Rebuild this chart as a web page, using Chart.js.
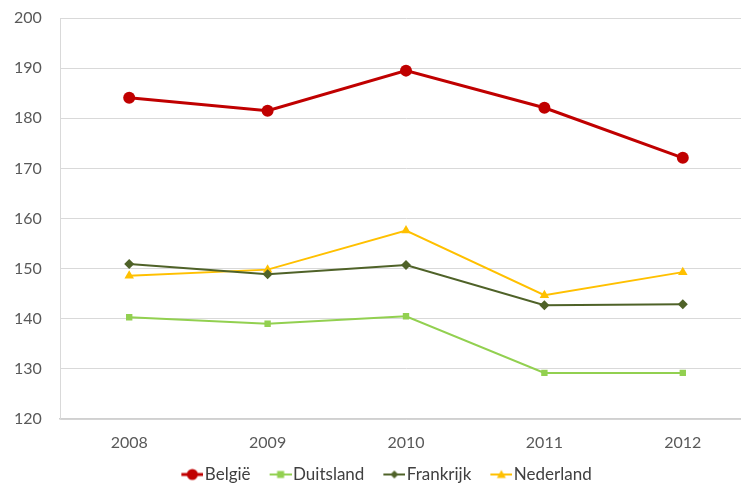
<!DOCTYPE html>
<html>
<head>
<meta charset="utf-8">
<script src="https://cdn.jsdelivr.net/npm/chart.js@4"></script>
<style>
  html, body { margin: 0; padding: 0; background: #fff; overflow: hidden; }
  #wrap { width: 772px; height: 493px; }
</style>
</head>
<body>
<div id="wrap"><canvas id="chart"></canvas></div>
<script>
// Data
const years = ["2008", "2009", "2010", "2011", "2012"]
const belgie = [184.1, 181.5, 189.5, 182.1, 172.1]
const duitsland = [140.3, 139.0, 140.5, 129.2, 129.2]
const frankrijk = [150.9, 148.9, 150.7, 142.7, 142.9]
const nederland = [148.6, 149.8, 157.6, 144.7, 149.3]
const yTicks = [120, 130, 140, 150, 160, 170, 180, 190, 200]

const FONT = "Lato, 'Open Sans', sans-serif"
const TEXT = "#595959"

// Legend symbol: short line with the marker in the middle (drawn in the right part of the image)
const legendSymbol = (color, width, style, size) => {
  const c = document.createElement("canvas")
  c.width = 36
  c.height = 14
  const ctx = c.getContext("2d")
  const cx = 25
  ctx.strokeStyle = color
  ctx.fillStyle = color
  ctx.lineWidth = width
  ctx.beginPath()
  ctx.moveTo(14, 7)
  ctx.lineTo(36, 7)
  ctx.stroke()
  ctx.beginPath()
  if (style === "circle") ctx.arc(cx, 7, size, 0, Math.PI * 2)
  if (style === "rect") ctx.rect(cx - size, 7 - size, size * 2, size * 2)
  if (style === "rectRot") {
    ctx.moveTo(cx, 7 - size); ctx.lineTo(cx + size, 7); ctx.lineTo(cx, 7 + size); ctx.lineTo(cx - size, 7)
  }
  if (style === "triangle") {
    ctx.moveTo(cx, 7 - size); ctx.lineTo(cx + size, 7 + size * 0.8); ctx.lineTo(cx - size, 7 + size * 0.8)
  }
  ctx.closePath()
  ctx.fill()
  return c
}

const series = [
  { label: "België", data: belgie, color: "#C00000", width: 3, style: "circle", radius: 6, legend: 5.5 },
  { label: "Duitsland", data: duitsland, color: "#92D050", width: 2, style: "rect", radius: 4.5, legend: 3.5 },
  { label: "Frankrijk", data: frankrijk, color: "#4F6228", width: 2, style: "rectRot", radius: 5, legend: 4 },
  { label: "Nederland", data: nederland, color: "#FFC000", width: 2, style: "triangle", radius: 5.5, legend: 4.5 },
]

const datasets = series.map((s) => ({
  label: s.label,
  data: s.data,
  borderColor: s.color,
  backgroundColor: s.color,
  borderWidth: s.width,
  pointStyle: s.style,
  pointRadius: s.radius,
  pointHoverRadius: s.radius,
  pointBorderWidth: 0,
  tension: 0,
  symbol: legendSymbol(s.color, s.width, s.style, s.legend),
}))

new Chart(document.getElementById("chart"), {
  type: "line",
  data: { labels: years, datasets },
  options: {
    responsive: true,
    maintainAspectRatio: false,
    animation: false,
    layout: { padding: { top: 18, right: 20, left: 14, bottom: 0 } },
    plugins: {
      tooltip: { enabled: false },
      legend: {
        position: "bottom",
        labels: {
          usePointStyle: true,
          pointStyleWidth: 22,
          padding: 12,
          color: "#404040",
          font: { family: FONT, size: 17 },
          generateLabels: (chart) =>
            chart.data.datasets.map((ds, i) => ({
              text: ds.label,
              pointStyle: ds.symbol,
              fontColor: "#404040",
              lineWidth: 0,
              strokeStyle: "transparent",
              fillStyle: ds.borderColor,
              datasetIndex: i,
              hidden: false,
            })),
        },
      },
    },
    scales: {
      x: {
        offset: true,
        grid: { display: false, drawTicks: false },
        border: { display: true, color: "#D0D0D0", width: 1.5 },
        ticks: { color: TEXT, font: { family: FONT, size: 16 }, padding: 14 },
        afterFit: (scale) => { scale.height = 35 },
      },
      y: {
        min: 120,
        max: 200,
        afterBuildTicks: (scale) => { scale.ticks = yTicks.map((v) => ({ value: v })) },
        grid: { color: "#D9D9D9", lineWidth: 1, drawTicks: false },
        border: { display: true, color: "#D9D9D9", width: 1 },
        ticks: { color: TEXT, font: { family: FONT, size: 16 }, padding: 0, crossAlign: "far" },
        afterFit: (scale) => { scale.width = 46 },
      },
    },
  },
})
</script>
</body>
</html>
